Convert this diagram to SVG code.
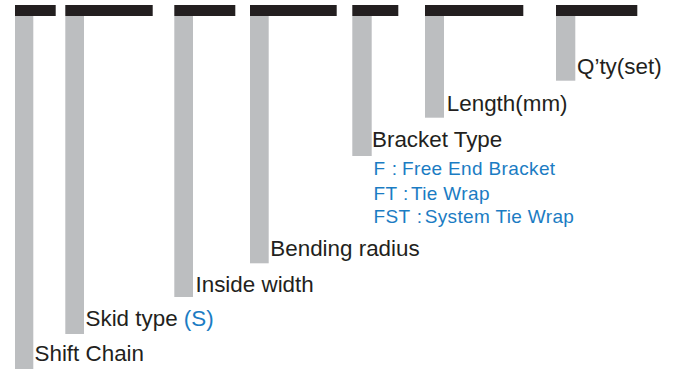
<svg xmlns="http://www.w3.org/2000/svg" width="676" height="369" viewBox="0 0 676 369">
<style>
.bar{fill:#231f20}
.col{fill:#bcbec0}
.lbl{font-family:"Liberation Sans",Arial,sans-serif;font-size:22.4px;fill:#231f20}
.blue{fill:#1b7cc3}
.opt{font-family:"Liberation Sans",Arial,sans-serif;font-size:19px;letter-spacing:0.35px;fill:#1b7cc3}
</style>
<rect width="676" height="369" fill="#ffffff"/>
<g id="shift-chain">
<rect class="col" x="15" y="16" width="18.3" height="353"/>
<rect class="bar" x="15" y="5" width="40.7" height="11"/>
<text class="lbl" x="34.5" y="361">Shift Chain</text>
</g>
<g id="skid-type">
<rect class="col" x="65.3" y="16" width="18.7" height="318"/>
<rect class="bar" x="65.3" y="5" width="87.4" height="11"/>
<text class="lbl" x="85.5" y="325.7">Skid type <tspan class="blue">(S)</tspan></text>
</g>
<g id="inside-width">
<rect class="col" x="174.3" y="16" width="18.7" height="281"/>
<rect class="bar" x="174.3" y="5" width="61" height="11"/>
<text class="lbl" x="195.5" y="292.3">Inside width</text>
</g>
<g id="bending-radius">
<rect class="col" x="250" y="16" width="18.7" height="247.3"/>
<rect class="bar" x="250" y="5" width="86.7" height="11"/>
<text class="lbl" x="270.3" y="256">Bending radius</text>
</g>
<g id="bracket-type">
<rect class="col" x="352.3" y="16" width="19.4" height="140"/>
<rect class="bar" x="352.3" y="5" width="46" height="11"/>
<text class="lbl" x="372" y="146.7">Bracket Type</text>
<text class="opt" y="175"><tspan x="373.5">F</tspan><tspan x="391.7">:</tspan><tspan x="402">Free End Bracket</tspan></text>
<text class="opt" y="200"><tspan x="373.5">FT</tspan><tspan x="403.1">:</tspan><tspan x="411">Tie Wrap</tspan></text>
<text class="opt" y="222.7"><tspan x="373.5">FST</tspan><tspan x="416.7">:</tspan><tspan x="424.7">System Tie Wrap</tspan></text>
</g>
<g id="length">
<rect class="col" x="425" y="16" width="19" height="101.7"/>
<rect class="bar" x="425" y="5" width="98.3" height="11"/>
<text class="lbl" x="446.8" y="111">Length(mm)</text>
</g>
<g id="qty">
<rect class="col" x="556" y="16" width="19.3" height="64.7"/>
<rect class="bar" x="556" y="5" width="81.3" height="11"/>
<text class="lbl" x="577" y="74.3">Q’ty(set)</text>
</g>
<g id="connectors"></g>
</svg>
